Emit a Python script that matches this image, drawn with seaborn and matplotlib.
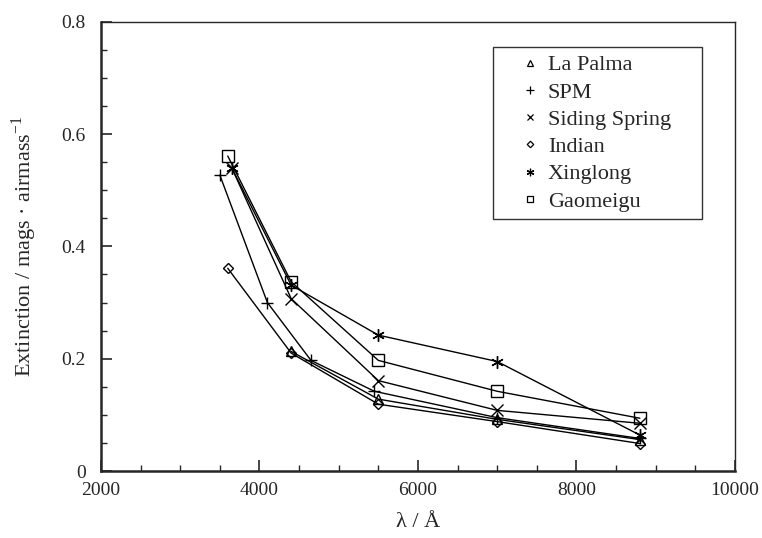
#!/usr/bin/env python3
# -*- coding: utf-8 -*-
"""Atmospheric extinction curves for several observatory sites."""

import matplotlib.pyplot as plt
import matplotlib.ticker as mticker
import pandas as pd
import seaborn as sns
from matplotlib.lines import Line2D

# Data (wavelength in Angstrom, extinction in mag/airmass)
sites = ["La Palma", "SPM", "Siding Spring", "Indian", "Xinglong", "Gaomeigu"]

la_palma_wl = [4400, 5500, 7000, 8800]
la_palma_ext = [0.213, 0.128, 0.092, 0.056]

spm_wl = [3500, 4100, 4650, 5450, 7000, 8800]
spm_ext = [0.527, 0.300, 0.197, 0.142, 0.095, 0.058]

siding_wl = [3650, 4400, 5500, 7000, 8800]
siding_ext = [0.540, 0.307, 0.161, 0.108, 0.085]

indian_wl = [3600, 4400, 5500, 7000, 8800]
indian_ext = [0.361, 0.210, 0.119, 0.088, 0.049]

xinglong_wl = [3650, 4400, 5500, 7000, 8800]
xinglong_ext = [0.540, 0.331, 0.242, 0.195, 0.064]

gaomeigu_wl = [3600, 4400, 5500, 7000, 8800]
gaomeigu_ext = [0.561, 0.337, 0.197, 0.142, 0.094]

x_ticks = [2000, 4000, 6000, 8000, 10000]
y_ticks = [0, 0.2, 0.4, 0.6, 0.8]

# Build a long-form table for seaborn
wl_lists = [la_palma_wl, spm_wl, siding_wl, indian_wl, xinglong_wl, gaomeigu_wl]
ext_lists = [la_palma_ext, spm_ext, siding_ext, indian_ext, xinglong_ext, gaomeigu_ext]
frames = []
for name, wl, ext in zip(sites, wl_lists, ext_lists):
    frames.append(pd.DataFrame({"Site": name, "Wavelength": wl, "Extinction": ext}))
df = pd.concat(frames, ignore_index=True)

asterisk = (6, 2, 0)
markers = {
    "La Palma": "^",
    "SPM": "+",
    "Siding Spring": "x",
    "Indian": "D",
    "Xinglong": asterisk,
    "Gaomeigu": "s",
}
sizes = {"La Palma": 7, "SPM": 9, "Siding Spring": 8, "Indian": 5.5,
         "Xinglong": 9, "Gaomeigu": 8}

sns.set_style("ticks")
plt.rcParams["font.family"] = ["Liberation Serif", "DejaVu Serif"]
plt.rcParams["mathtext.fontset"] = "custom"
plt.rcParams["mathtext.rm"] = "Liberation Serif"

fig = plt.figure(figsize=(7.62, 5.38), dpi=100)
ax = fig.add_axes([0.1325, 0.1245, 0.832, 0.835])

for name in sites:
    sub = df[df["Site"] == name]
    sns.lineplot(
        data=sub,
        x="Wavelength",
        y="Extinction",
        color="black",
        marker=markers[name],
        markersize=sizes[name],
        markerfacecolor="none",
        markeredgecolor="black",
        markeredgewidth=1.0,
        linewidth=1.0,
        sort=True,
        legend=False,
        ax=ax,
    )

ax.set_xlim(2000, 10000)
ax.set_ylim(0, 0.8)
ax.set_xticks(x_ticks)
ax.set_yticks(y_ticks)
ax.xaxis.set_minor_locator(mticker.MultipleLocator(500))
ax.yaxis.set_minor_locator(mticker.MultipleLocator(0.05))
ax.yaxis.set_major_formatter(mticker.FuncFormatter(lambda v, p: "%g" % v))
ax.tick_params(axis="both", which="major", direction="in", length=8,
               width=1.2, labelsize=14, top=False, right=False)
ax.tick_params(axis="x", which="major", pad=8)
ax.tick_params(axis="y", which="major", pad=11)
ax.tick_params(axis="both", which="minor", direction="in", length=4,
               width=1.0, top=False, right=False)
for side in ["left", "bottom"]:
    ax.spines[side].set_linewidth(1.8)
for side in ["top", "right"]:
    ax.spines[side].set_linewidth(1.0)

ax.set_xlabel("λ / Å", fontsize=16, labelpad=10)
ax.set_ylabel("Extinction / mags · airmass$^{\\mathregular{-1}}$", fontsize=16,
              labelpad=16)

# Legend shows markers only
handles = [
    Line2D([], [], linestyle="none", marker=markers[n], markersize=sizes[n] * 0.6,
           markerfacecolor="none", markeredgecolor="black", markeredgewidth=0.9,
           label=n)
    for n in sites
]
leg = ax.legend(handles=handles, loc="upper left",
                bbox_to_anchor=(0.618, 0.8437, 0.330, 0.1), mode="expand",
                borderaxespad=0, fontsize=16, frameon=True, fancybox=False,
                edgecolor="black", handlelength=2.63, handletextpad=-0.5,
                labelspacing=0.3, borderpad=0.35)
leg.get_frame().set_linewidth(1.0)

fig.savefig("out.png", dpi=100)
